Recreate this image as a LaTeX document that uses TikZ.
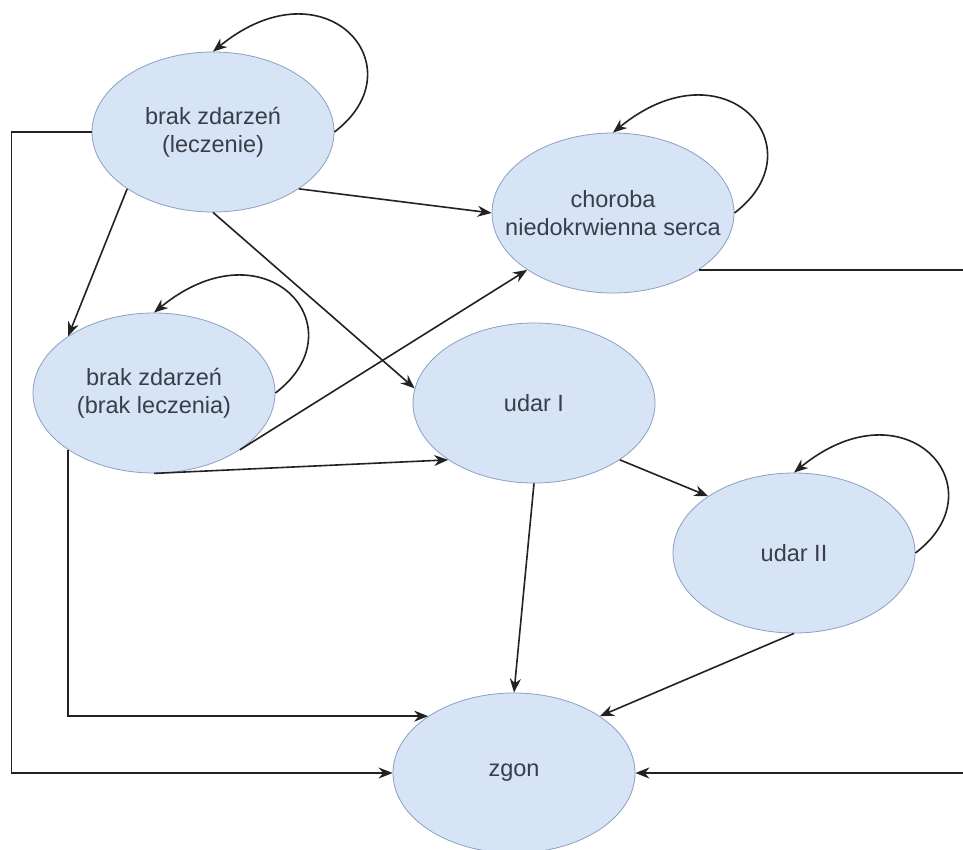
\documentclass[tikz,border=0pt]{standalone}
\usepackage{fontspec}
\setmainfont{Liberation Sans}
\usetikzlibrary{shapes.geometric,arrows.meta,calc}
\definecolor{nodefill}{RGB}{214,228,246}
\definecolor{nodeedge}{RGB}{140,160,192}
\definecolor{nodetext}{RGB}{58,62,72}
\definecolor{linecol}{RGB}{34,34,34}
\begin{document}
\begin{tikzpicture}[x=1pt,y=-1pt,
  state/.style={ellipse, draw=nodeedge, fill=nodefill, line width=0.8pt,
    minimum width=242pt, minimum height=160pt, inner xsep=-60pt, inner ysep=0pt,
    align=center, font=\fontsize{23.5}{28}\selectfont, text=nodetext},
  link/.style={draw=linecol, line width=1.6pt, -{Stealth[length=14pt,width=11pt]}},
  selfloop/.style={link}]
  \path[use as bounding box, clip] (0,0) rectangle (963,850);
  \fill[white] (0,0) rectangle (963,850);

  % states
  \node[state] (n1)  at (213,132) {brak zdarzeń\\(leczenie)};
  \node[state] (cho) at (613,213) {choroba\\niedokrwienna serca};
  \node[state] (n3)  at (154,393) {brak zdarzeń\\(brak leczenia)};
  \node[state] (u1)  at (534,403) {udar I};
  \node[state] (u2)  at (794,553) {udar II};
  \node[state] (zg)  at (514,773) {zgon};
  \coordinate (rt) at (975,0);

  % self transitions
  \foreach \n in {n1,cho,n3,u2}
    \draw[selfloop] (\n.east) .. controls ($(\n.center)+(207,-65)$)
      and ($(\n.center)+(112,-172)$) .. (\n.north);

  % transitions between states
  \draw[link] (n1.south west) -- (n3.north west);
  \draw[link] (n1.south east) -- (cho.west);
  \draw[link] (n1.south) -- (u1.173);
  \draw[link] (n3.south east) -- (cho.south west);
  \draw[link] (n3.south) -- (u1.south west);
  \draw[link] (u1.south east) -- (u2.north west);
  \draw[link] (u1.south) -- (zg.north);
  \draw[link] (u2.south) -- (zg.north east);
  \draw[link] (n3.south west) |- (zg.north west);
  \draw[link] (n1.west) -- ++(-80,0) |- (zg.west);
  \draw[link] (cho.south east) -- (cho.south east -| rt) |- (zg.east);
\end{tikzpicture}
\end{document}
